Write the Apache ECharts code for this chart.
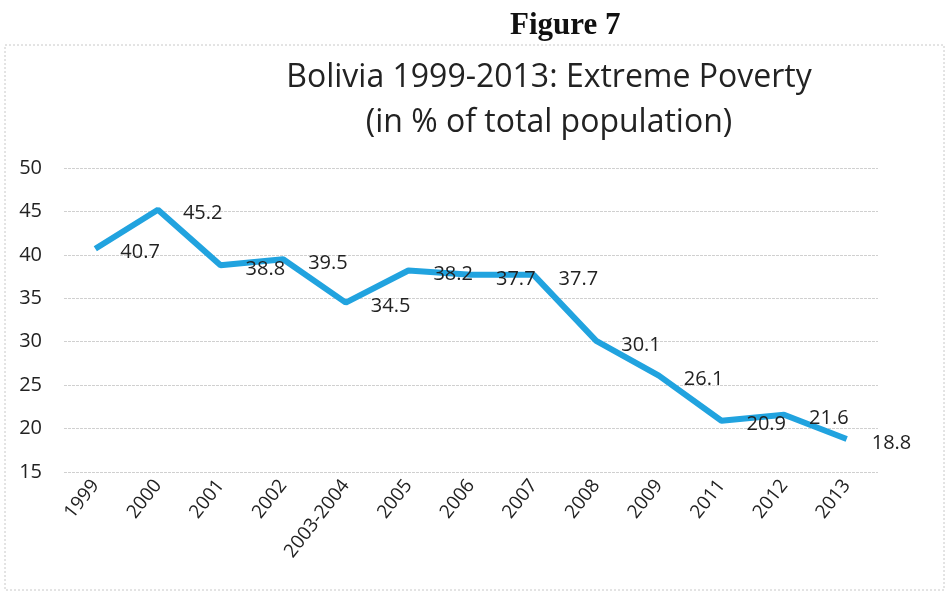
<!DOCTYPE html>
<html>
<head>
<meta charset="utf-8">
<script src="https://cdn.jsdelivr.net/npm/echarts@6/dist/echarts.min.js"></script>
<style>
  html, body { margin: 0; padding: 0; background: #fff; }
  #chart { width: 950px; height: 597px; }
</style>
</head>
<body>
<div id="chart"></div>
<script>
const years = ['1999', '2000', '2001', '2002', '2003-2004', '2005', '2006', '2007', '2008', '2009', '2011', '2012', '2013'];
const poverty = [40.7, 45.2, 38.8, 39.5, 34.5, 38.2, 37.7, 37.7, 30.1, 26.1, 20.9, 21.6, 18.8];

const chart = echarts.init(document.getElementById('chart'));

const option = {
  backgroundColor: '#fff',
  animation: false,
  graphic: [
    {
      type: 'rect',
      shape: { x: 5, y: 45, width: 939, height: 545 },
      style: { fill: 'none', stroke: '#c8c8c8', lineWidth: 1, lineDash: [2, 2] },
    },
    {
      type: 'text',
      left: 510, top: 10,
      style: { text: 'Figure 7', font: 'bold 31px "Liberation Serif", serif', fill: '#111' },
    },
    {
      type: 'text',
      x: 549, y: 55,
      style: {
        text: 'Bolivia 1999-2013: Extreme Poverty\n(in % of total population)',
        font: '32px "Open Sans", sans-serif',
        fill: '#222',
        align: 'center',
        lineHeight: 45,
      },
    },
  ],
  grid: {
    left: 64,
    right: 72,
    top: 168,
    bottom: 125,
  },
  xAxis: {
    type: 'category',
    data: years,
    boundaryGap: true,
    axisLine: { show: false },
    axisTick: { show: false },
    axisLabel: {
      rotate: 52,
      fontSize: 19,
      color: '#222',
      fontFamily: '"Open Sans", sans-serif',
      margin: 10,
    },
  },
  yAxis: {
    type: 'value',
    min: 15,
    max: 50,
    interval: 5,
    axisLine: { show: false },
    axisTick: { show: false },
    axisLabel: {
      fontSize: 20,
      color: '#222',
      fontFamily: '"Open Sans", sans-serif',
      margin: 22,
    },
    splitLine: {
      lineStyle: { color: '#d0d0d0', type: [3, 1], width: 1 },
    },
  },
  series: [
    {
      type: 'line',
      data: poverty,
      symbol: 'circle',
      symbolSize: 0,
      showSymbol: true,
      lineStyle: { color: '#21a3df', width: 6 },
      itemStyle: { color: '#21a3df' },
      label: {
        show: true,
        position: 'right',
        distance: 0,
        offset: [25, 4],
        fontSize: 20,
        color: '#222',
        fontFamily: '"Open Sans", sans-serif',
      },
    },
  ],
};

chart.setOption(option);
</script>
</body>
</html>
